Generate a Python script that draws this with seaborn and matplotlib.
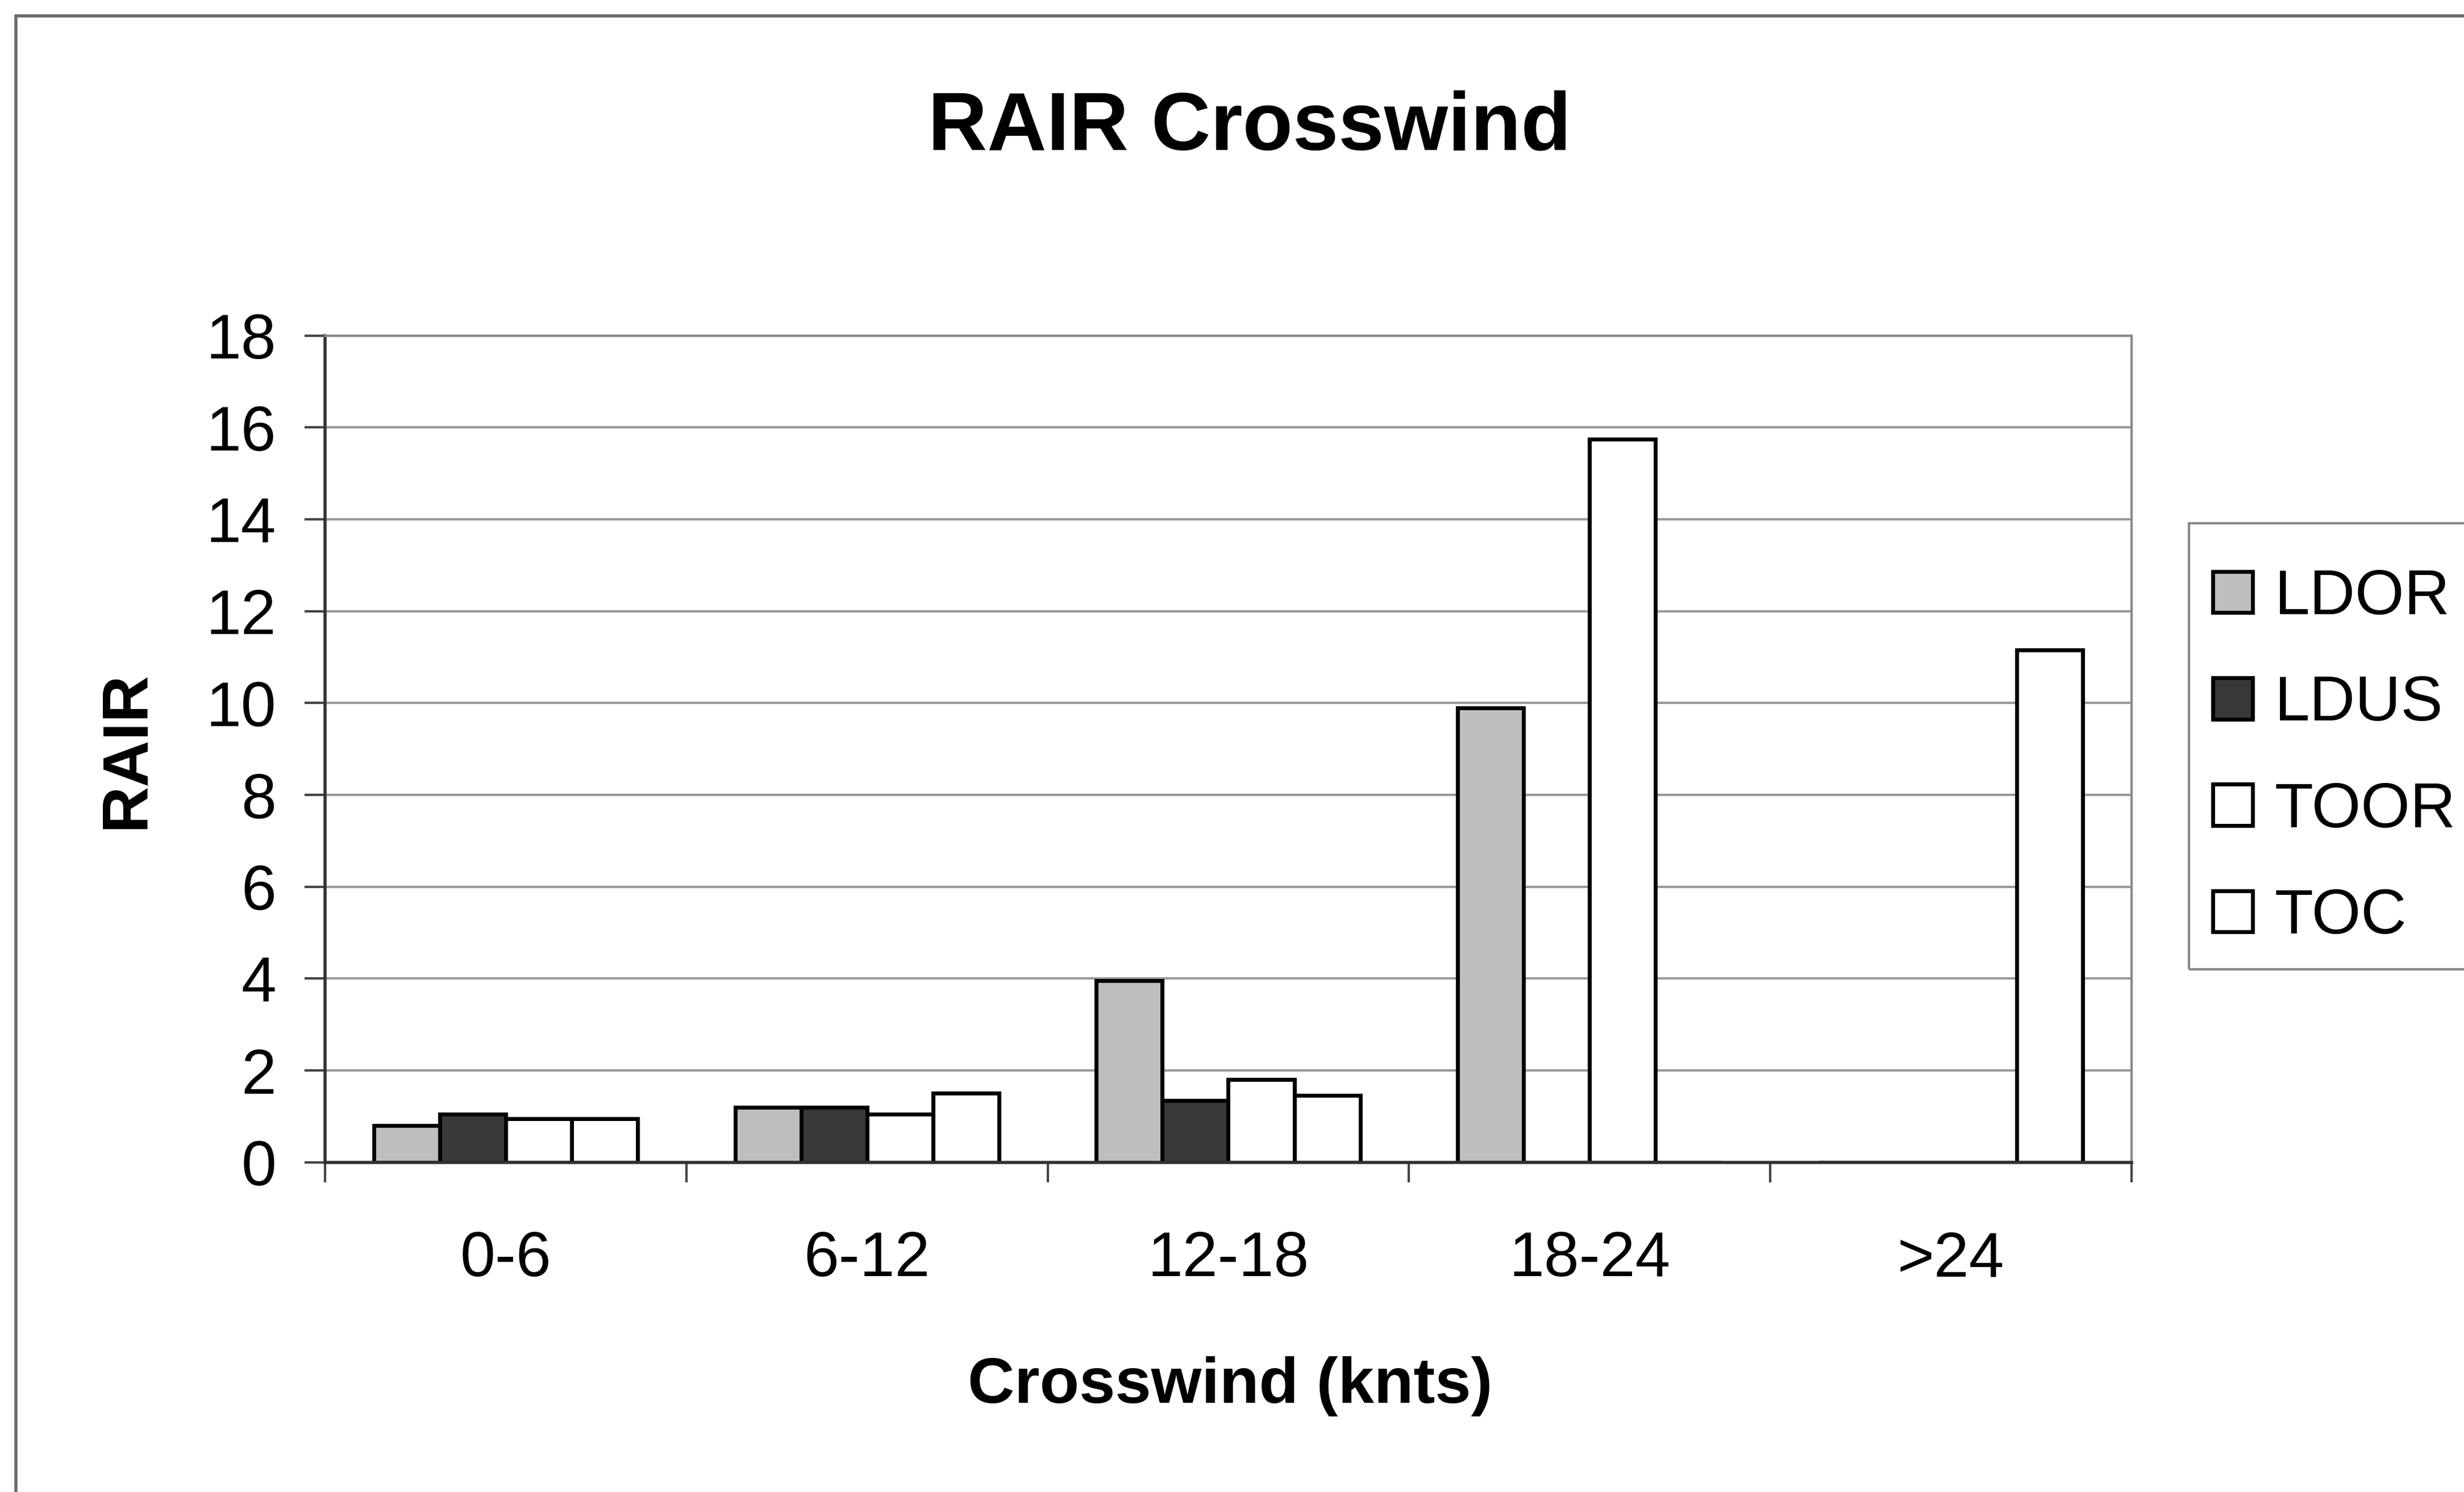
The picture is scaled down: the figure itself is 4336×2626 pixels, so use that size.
import matplotlib
matplotlib.use("Agg")
import matplotlib.pyplot as plt
import matplotlib.patches as mpatches
import seaborn as sns
import pandas as pd

categories = ["0-6", "6-12", "12-18", "18-24", ">24"]
series_names = ["LDOR", "LDUS", "TOOR", "TOC"]
ldor = [0.8, 1.2, 3.95, 9.9, 0.0]
ldus = [1.05, 1.2, 1.35, 0.0, 0.0]
toor = [0.95, 1.05, 1.8, 15.75, 0.0]
toc = [0.95, 1.5, 1.45, 0.0, 11.15]
y_ticks = [0, 2, 4, 6, 8, 10, 12, 14, 16, 18]

colors = {"LDOR": "#bebebe", "LDUS": "#383838", "TOOR": "#ffffff", "TOC": "#ffffff"}

rows = []
for name, vals in zip(series_names, [ldor, ldus, toor, toc]):
    for c, v in zip(categories, vals):
        rows.append({"Crosswind": c, "Series": name, "RAIR": v})
df = pd.DataFrame(rows)

sns.set_theme(style="white")
plt.rcParams["font.family"] = ["Liberation Sans", "DejaVu Sans"]
plt.rcParams["text.color"] = "black"
plt.rcParams["axes.labelcolor"] = "black"
plt.rcParams["xtick.color"] = "black"
plt.rcParams["ytick.color"] = "black"

fig = plt.figure(figsize=(43.36, 26.26), dpi=100)
ax = fig.add_axes([0.132, 0.221, 0.733, 0.554])

sns.barplot(data=df, x="Crosswind", y="RAIR", hue="Series", order=categories,
            hue_order=series_names, palette=colors, width=0.73, gap=0,
            edgecolor="black", linewidth=5, saturation=1, ax=ax, legend=True)

ax.set_ylim(0, 18)
ax.set_xlim(-0.5, len(categories) - 0.5)
ax.set_yticks(y_ticks)
ax.set_yticklabels([str(t) for t in y_ticks], fontsize=80)
ax.yaxis.grid(True, color="#9a9a9a", linewidth=3)
ax.set_axisbelow(True)

# category labels at centers, boundary ticks as minor ticks
ax.set_xticks(range(len(categories)))
ax.set_xticklabels(categories, fontsize=80)
ax.set_xticks([i - 0.5 for i in range(len(categories) + 1)], minor=True)
ax.tick_params(axis="x", which="major", length=0, pad=86, labelcolor="black")
ax.tick_params(axis="x", which="minor", length=25, width=3, color="#444444", direction="out", bottom=True)
ax.tick_params(axis="y", which="major", length=26, width=3, color="#444444", direction="out", left=True,
               pad=36, labelcolor="black")

for side in ["top", "right"]:
    ax.spines[side].set_color("#8a8a8a")
    ax.spines[side].set_linewidth(3)
for side in ["left", "bottom"]:
    ax.spines[side].set_color("#333333")
    ax.spines[side].set_linewidth(4)

ax.set_xlabel("Crosswind (knts)", fontsize=82, fontweight="bold", color="black")
ax.set_ylabel("RAIR", fontsize=82, fontweight="bold", color="black")
ax.xaxis.set_label_coords(0.501, -0.271)
ax.xaxis.label.set_va("center")
ax.yaxis.set_label_coords(-0.1095, 0.499)
ax.yaxis.label.set_va("center")

handles, labels = ax.get_legend_handles_labels()
leg = ax.legend(handles, labels, loc="upper left",
                bbox_to_anchor=(3894 / 4336, 1 - 1000 / 2626), bbox_transform=fig.transFigure,
                fontsize=80, frameon=False,
                handlelength=0.63, handleheight=0.63, handletextpad=0.35,
                labelspacing=0.75, borderpad=0, borderaxespad=0)
for t in leg.get_texts():
    t.set_color("black")
for h in leg.legend_handles:
    h.set_linewidth(5)
    h.set_edgecolor("black")

# legend frame (extends past the right edge, as in the reference)
frame = mpatches.Rectangle((3852 / 4336, 1 - 1706 / 2626), 0.3, (1706 - 921) / 2626,
                           transform=fig.transFigure, fill=False, edgecolor="#8a8a8a", linewidth=3)
fig.patches.append(frame)

fig.text(0.507, 0.914, "RAIR Crosswind", ha="center", va="center",
         fontsize=104, fontweight="bold", color="black")

border = mpatches.Rectangle((0.0065, -0.5), 2.0, 0.9895 + 0.5, transform=fig.transFigure,
                            fill=False, edgecolor="#6a6a6a", linewidth=4)
fig.patches.append(border)

fig.savefig("out.png", dpi=100, facecolor="white")
